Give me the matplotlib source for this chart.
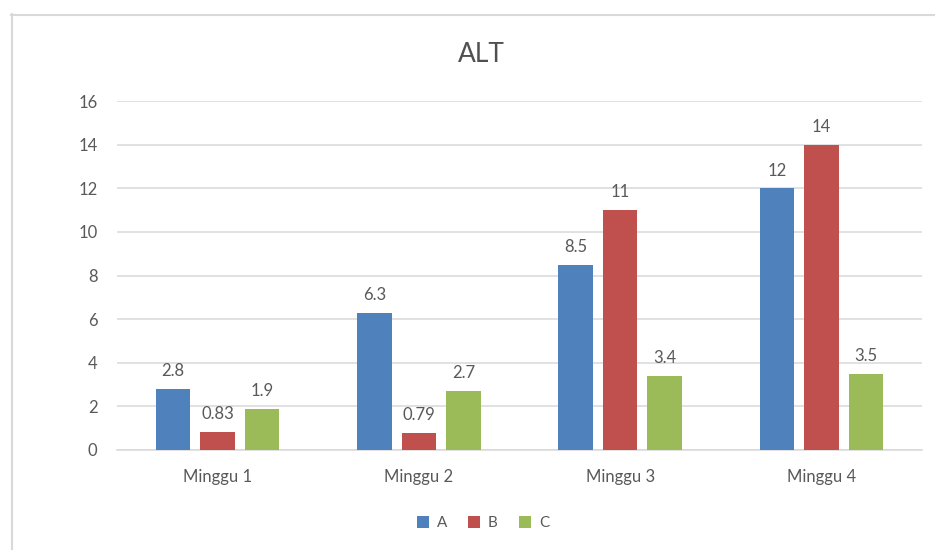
import matplotlib
matplotlib.use("Agg")
import matplotlib.pyplot as plt
from matplotlib.lines import Line2D
from matplotlib.patches import Patch
import numpy as np

plt.rcParams['font.family'] = ['Lato', 'DejaVu Sans']

categories = ["Minggu 1", "Minggu 2", "Minggu 3", "Minggu 4"]
series_names = ["A", "B", "C"]
values_a = [2.8, 6.3, 8.5, 12]
values_b = [0.83, 0.79, 11, 14]
values_c = [1.9, 2.7, 3.4, 3.5]
labels_a = ["2.8", "6.3", "8.5", "12"]
labels_b = ["0.83", "0.79", "11", "14"]
labels_c = ["1.9", "2.7", "3.4", "3.5"]
y_ticks = [0, 2, 4, 6, 8, 10, 12, 14, 16]

colors = ["#4F81BD", "#C0504D", "#9BBB59"]
text_color = "#595959"
grid_color = "#D9D9D9"

W, H = 935, 550
fig = plt.figure(figsize=(W / 100, H / 100), dpi=100)
fig.patch.set_facecolor("white")

# plot area in pixel terms
left, right, top, bottom = 117, 922, 101, 450
ax = fig.add_axes([left / W, 1 - bottom / H, (right - left) / W, (bottom - top) / H])

x = np.arange(len(categories))
bar_w = 0.172
offset = 0.221
series = [(values_a, labels_a), (values_b, labels_b), (values_c, labels_c)]
for i, ((vals, labs), col) in enumerate(zip(series, colors)):
    pos = x + (i - 1) * offset
    bars = ax.bar(pos, vals, width=bar_w, color=col, zorder=3)
    for b, lab in zip(bars, labs):
        ax.annotate(lab, (b.get_x() + b.get_width() / 2, b.get_height()),
                    xytext=(0, 7), textcoords="offset points",
                    ha="center", va="bottom", fontsize=12, color=text_color)

ax.set_xlim(-0.5, len(categories) - 0.5)
ax.set_ylim(0, 16)
ax.set_yticks(y_ticks)
ax.set_yticklabels([str(t) for t in y_ticks])
ax.set_xticks(x)
ax.set_xticklabels(categories)
ax.tick_params(axis="y", length=0, pad=14, labelsize=12, labelcolor=text_color)
ax.tick_params(axis="x", length=0, pad=14, labelsize=12, labelcolor=text_color)
ax.yaxis.grid(True, color=grid_color, linewidth=1.1, zorder=0)
ax.set_axisbelow(True)
for s in ["top", "right", "left"]:
    ax.spines[s].set_visible(False)
ax.spines["bottom"].set_color(grid_color)
ax.spines["bottom"].set_linewidth(1.1)

fig.text(481 / W, 1 - 55 / H, "ALT", ha="center", va="center",
         fontsize=19, color="#505050")

handles = [Patch(facecolor=c, edgecolor="none") for c in colors]
fig.legend(handles, series_names, loc="center", bbox_to_anchor=(483 / W, 1 - 523 / H),
           ncol=3, frameon=False, fontsize=11, labelcolor=text_color,
           handlelength=0.8, handleheight=0.8, handletextpad=0.5, columnspacing=1.4)

# chart frame
fig.add_artist(Line2D([11.5 / W, 11.5 / W], [0, 1 - 14 / H], color="#D9D9D9", lw=1.5,
                      transform=fig.transFigure))
fig.add_artist(Line2D([11 / W, 1], [1 - 14.5 / H, 1 - 14.5 / H], color="#D9D9D9", lw=1.5,
                      transform=fig.transFigure))

fig.savefig("out.png", dpi=100, facecolor="white")
